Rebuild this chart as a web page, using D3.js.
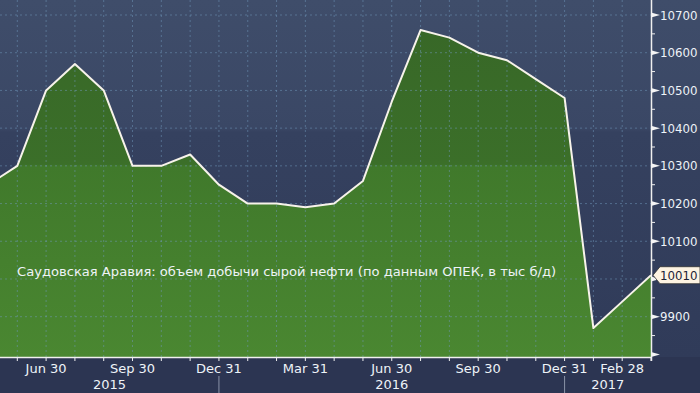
<!DOCTYPE html>
<html>
<head>
<meta charset="utf-8">
<script src="https://cdn.jsdelivr.net/npm/d3@7"></script>
<style>
  html, body { margin: 0; padding: 0; background: #2c3552; }
  svg { display: block; }
  text { font-family: "DejaVu Sans", sans-serif; }
</style>
</head>
<body>
<svg id="chart" width="700" height="393"></svg>
<script>
// monthly month-end values, Apr 2015 .. Mar 2017
var months = ["2015-04-30","2015-05-31","2015-06-30","2015-07-31","2015-08-31","2015-09-30",
  "2015-10-31","2015-11-30","2015-12-31","2016-01-31","2016-02-29","2016-03-31","2016-04-30",
  "2016-05-31","2016-06-30","2016-07-31","2016-08-31","2016-09-30","2016-10-31","2016-11-30",
  "2016-12-31","2017-01-31","2017-02-28","2017-03-31"];
var production = [10250, 10300, 10500, 10570, 10500, 10300, 10300, 10330, 10250, 10200, 10200,
  10190, 10200, 10260, 10470, 10660, 10640, 10600, 10580, 10530, 10480, 9870, 9940, 10010];

var monthLabels = [
  { i: 2, text: "Jun 30" }, { i: 5, text: "Sep 30" }, { i: 8, text: "Dec 31" },
  { i: 11, text: "Mar 31" }, { i: 14, text: "Jun 30" }, { i: 17, text: "Sep 30" },
  { i: 20, text: "Dec 31" }, { i: 22, text: "Feb 28" }
];
var yearLabels = ["2015", "2016", "2017"];
var yTicks = [9900, 10100, 10200, 10300, 10400, 10500, 10600, 10700];
var lastValue = "10010";
var title = "Саудовская Аравия: объем добычи сырой нефти (по данным ОПЕК, в тыс б/д)";

var W = 700, H = 393;
var plotRight = 651, plotBottom = 357;

var svg = d3.select("#chart");
var defs = svg.append("defs");

var bg = defs.append("linearGradient").attr("id", "bg")
  .attr("gradientUnits", "userSpaceOnUse").attr("x1", 0).attr("y1", 0).attr("x2", 0).attr("y2", plotBottom);
bg.append("stop").attr("offset", 0).attr("stop-color", "#3f4d6a");
bg.append("stop").attr("offset", 0.36).attr("stop-color", "#3a4765");
bg.append("stop").attr("offset", 0.37).attr("stop-color", "#35415f");
bg.append("stop").attr("offset", 1).attr("stop-color", "#303b59");

var gr = defs.append("linearGradient").attr("id", "green")
  .attr("gradientUnits", "userSpaceOnUse").attr("x1", 0).attr("y1", 0).attr("x2", 0).attr("y2", plotBottom);
gr.append("stop").attr("offset", 0).attr("stop-color", "#376627");
gr.append("stop").attr("offset", 0.46).attr("stop-color", "#3b6f29");
gr.append("stop").attr("offset", 0.465).attr("stop-color", "#40792b");
gr.append("stop").attr("offset", 1).attr("stop-color", "#4a8731");

svg.append("rect").attr("width", W).attr("height", plotBottom).attr("fill", "url(#bg)");
svg.append("rect").attr("y", plotBottom).attr("width", W).attr("height", H - plotBottom).attr("fill", "#2c3552");

var x = d3.scaleLinear().domain([1, months.length - 1]).range([17.3, plotRight]);
var y = d3.scaleLinear().domain([9900, 10700]).range([316.7, 15]);

var data = months.map(function (m, i) { return { i: i, v: production[i] }; });

var clip = defs.append("clipPath").attr("id", "plotclip");
clip.append("rect").attr("x", 0).attr("y", 0).attr("width", plotRight).attr("height", plotBottom);

var g = svg.append("g").attr("clip-path", "url(#plotclip)");

g.append("path").datum(data)
  .attr("fill", "url(#green)")
  .attr("d", d3.area().x(d => x(d.i)).y0(plotBottom).y1(d => y(d.v)));

// grid
var gridY = d3.range(9900, 10701, 100);
g.selectAll("line.gy").data(gridY).enter().append("line")
  .attr("x1", 0).attr("x2", plotRight)
  .attr("y1", d => y(d)).attr("y2", d => y(d))
  .attr("stroke", "#7299bd").attr("stroke-opacity", 0.5)
  .attr("stroke-dasharray", "2,3");
g.selectAll("line.gx").data(d3.range(1, months.length - 1)).enter().append("line")
  .attr("x1", d => x(d)).attr("x2", d => x(d))
  .attr("y1", 0).attr("y2", plotBottom)
  .attr("stroke", "#7299bd").attr("stroke-opacity", 0.5)
  .attr("stroke-dasharray", "2,3");

g.append("path").datum(data)
  .attr("fill", "none")
  .attr("stroke", "#f7f3ea")
  .attr("stroke-width", 2)
  .attr("stroke-linejoin", "round")
  .attr("d", d3.line().x(d => x(d.i)).y(d => y(d.v)));

// title
svg.append("text")
  .attr("x", 17).attr("y", 276)
  .attr("font-size", 13.1)
  .attr("fill", "#eef3f8")
  .text(title);

// bottom axis
svg.append("line").attr("x1", 0).attr("x2", plotRight)
  .attr("y1", plotBottom + 0.5).attr("y2", plotBottom + 0.5)
  .attr("stroke", "#f0f0f0").attr("stroke-width", 1.5);
svg.selectAll("line.xt").data(d3.range(1, months.length)).enter().append("line")
  .attr("x1", d => x(d)).attr("x2", d => x(d))
  .attr("y1", plotBottom).attr("y2", plotBottom + 4)
  .attr("stroke", "#f0f0f0");
svg.selectAll("text.ml").data(monthLabels).enter().append("text")
  .attr("x", d => x(d.i)).attr("y", 373)
  .attr("text-anchor", "middle")
  .attr("font-size", 13)
  .attr("fill", "#eef3f8")
  .text(d => d.text);

var yearBounds = [[0, x(8)], [x(8), x(20)], [x(20), plotRight]];
svg.selectAll("text.yl").data(yearLabels).enter().append("text")
  .attr("x", (d, i) => (yearBounds[i][0] + yearBounds[i][1]) / 2).attr("y", 389)
  .attr("text-anchor", "middle")
  .attr("font-size", 13)
  .attr("fill", "#eef3f8")
  .text(d => d);
svg.selectAll("line.ysep").data([8, 20]).enter().append("line")
  .attr("x1", d => x(d)).attr("x2", d => x(d))
  .attr("y1", 376).attr("y2", H)
  .attr("stroke", "#8a93a8");

// right axis
svg.append("line").attr("x1", plotRight + 0.5).attr("x2", plotRight + 0.5)
  .attr("y1", 0).attr("y2", plotBottom + 4)
  .attr("stroke", "#f0f0f0").attr("stroke-width", 1.5);
var majors = d3.range(9800, 10701, 100);
svg.selectAll("path.tri").data(majors).enter().append("path")
  .attr("d", d => "M" + plotRight + "," + (y(d) - 2.5) + "L" + (plotRight + 9) + "," + y(d) + "L" + plotRight + "," + (y(d) + 2.5) + "Z")
  .attr("fill", "#f4f4f4");
svg.selectAll("line.minor").data(d3.range(9850, 10701, 100)).enter().append("line")
  .attr("x1", plotRight).attr("x2", plotRight + 4)
  .attr("y1", d => y(d)).attr("y2", d => y(d))
  .attr("stroke", "#f0f0f0");
svg.selectAll("text.yt").data(yTicks).enter().append("text")
  .attr("x", 660).attr("y", d => y(d) + 4.5)
  .attr("font-size", 11.8)
  .attr("fill", "#eef3f8")
  .text(d => d);

// last value marker
var ly = y(+lastValue);
svg.append("path")
  .attr("d", "M" + (plotRight + 2) + "," + ly + "L" + (plotRight + 9) + "," + (ly - 8.5) + "L" + W + "," + (ly - 8.5) +
    "L" + W + "," + (ly + 8.5) + "L" + (plotRight + 9) + "," + (ly + 8.5) + "Z")
  .attr("fill", "#fdf3e2").attr("stroke", "#333").attr("stroke-width", 0.8);
svg.append("text")
  .attr("x", 660).attr("y", ly + 4.5)
  .attr("font-size", 11.8)
  .attr("fill", "#1b2236")
  .text(lastValue);
</script>
</body>
</html>
